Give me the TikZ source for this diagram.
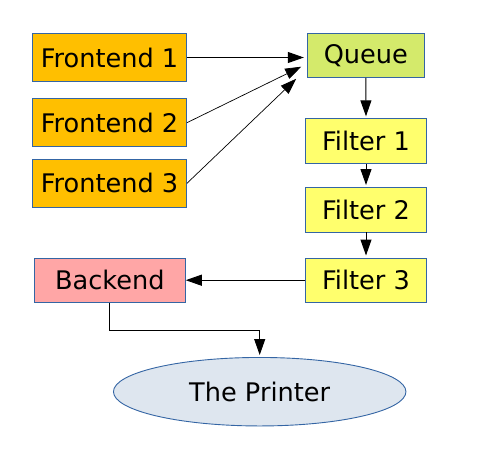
\documentclass[tikz,border=0pt]{standalone}
\usepackage{fontspec}
\setmainfont{DejaVu Sans}
\usetikzlibrary{arrows.meta,shapes.geometric}
\definecolor{bordc}{HTML}{3465A4}
\definecolor{frontc}{HTML}{FFBF00}
\definecolor{queuec}{HTML}{D4EA6B}
\definecolor{filtc}{HTML}{FFFF6D}
\definecolor{backc}{HTML}{FFA6A6}
\definecolor{printc}{HTML}{DEE6EF}
\tikzset{
  box/.style={draw=bordc, line width=0.9pt, rectangle, inner sep=0pt,
    font=\fontsize{25.6}{30}\selectfont},
  frontbox/.style={box, fill=frontc, minimum width=154pt, minimum height=48pt},
  queuebox/.style={box, fill=queuec, minimum width=117pt, minimum height=44pt},
  filtbox/.style={box, fill=filtc, minimum width=120.5pt, minimum height=44.5pt},
  backbox/.style={box, fill=backc, minimum width=151pt, minimum height=44pt},
  printbox/.style={box, ellipse, fill=printc, minimum width=292.5pt, minimum height=68.5pt},
  conn/.style={line width=1pt, -{Triangle[length=16pt,width=11pt]}},
}
\begin{document}
\begin{tikzpicture}[x=1pt,y=-1pt]
\useasboundingbox (0,0) rectangle (495,453);
\node[frontbox] (f1) at (109.5,57.5) {Frontend 1};
\node[frontbox] (f2) at (109.5,122.7) {Frontend 2};
\node[frontbox] (f3) at (109.5,183.3) {Frontend 3};
\node[queuebox] (q) at (365.8,55.3) {Queue};
\node[filtbox] (fi1) at (366,141) {Filter 1};
\node[filtbox] (fi2) at (366,209.7) {Filter 2};
\node[filtbox] (fi3) at (366,280.2) {Filter 3};
\node[backbox] (b) at (109.8,280.2) {Backend};
\node[printbox] (p) at (259.7,391.7) {The Printer};
\coordinate (t2) at ([shift={(-5.6,11.4)}]q.west);
\coordinate (t3) at ([shift={(-10.6,1)}]q.south west);
\draw[conn, shorten >=3pt] (f1.east) -- (f1.east -| q.west);
\draw[conn, line width=0.7pt] (f2.east) -- (t2);
\draw[conn, line width=0.7pt] (f3.east) -- (t3);
\draw[conn, shorten >=2pt] (q.south) -- (fi1.north);
\draw[conn, shorten >=2pt] (fi1.south) -- (fi2.north);
\draw[conn, shorten >=2pt] (fi2.south) -- (fi3.north);
\draw[conn] (fi3.west) -- (b.east);
\draw[conn, shorten >=2pt] (b.south) -- ++(0,28) -| (p.north);
\end{tikzpicture}
\end{document}
